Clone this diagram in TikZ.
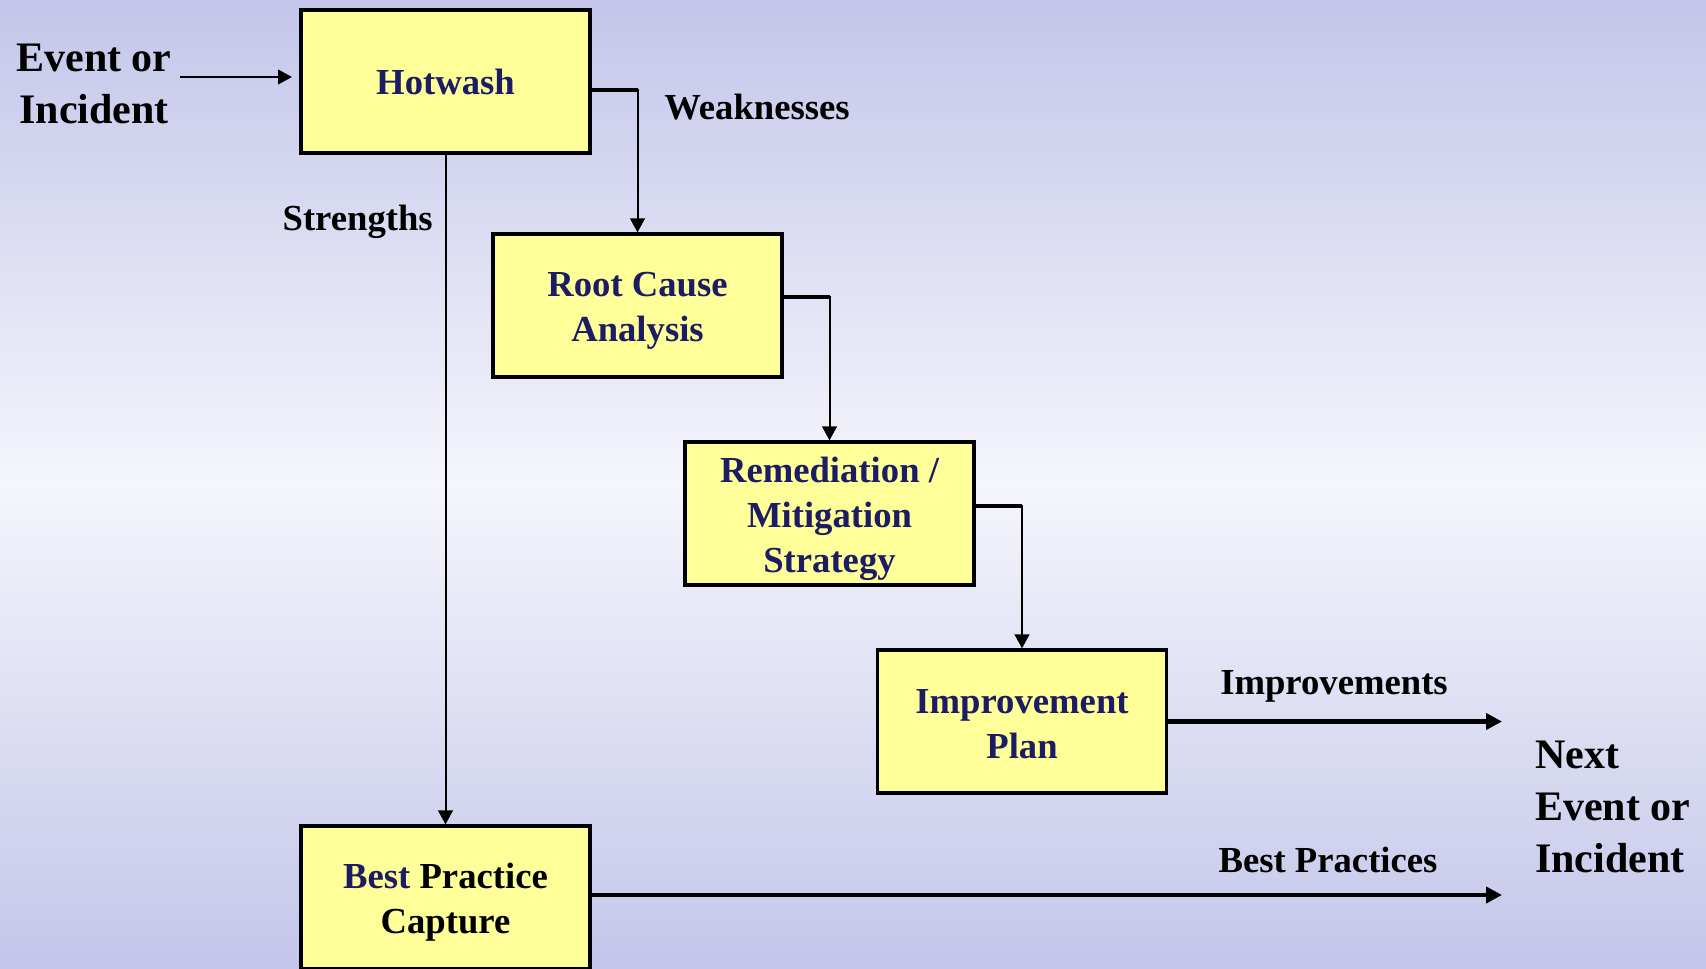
\documentclass[tikz,border=0pt]{standalone}
\usepackage{fontspec}
\setmainfont{Liberation Serif}
\usetikzlibrary{arrows.meta,calc}
\definecolor{bgedge}{RGB}{195,198,233}
\definecolor{bgmid}{RGB}{245,245,252}
\definecolor{boxfill}{RGB}{255,255,153}
\definecolor{navy}{RGB}{28,28,100}
\newcommand\tstrut{\rule{0pt}{26.5pt}}
\newcommand\sstrut{\rule{0pt}{21.7pt}}
\begin{document}
\begin{tikzpicture}[x=0.75pt,y=-0.75pt,
  procbox/.style={draw=black, line width=2.4pt, fill=boxfill, minimum width=216.75pt, minimum height=107.25pt,
    inner sep=0pt, align=center, text=navy, font=\bfseries\fontsize{27.5}{33.75}\selectfont},
  lbl/.style={inner sep=0pt, font=\bfseries\fontsize{27.5}{33.75}\selectfont},
  biglbl/.style={inner sep=0pt, font=\bfseries\fontsize{31.5}{39}\selectfont},
  thinarrow/.style={line width=1.5pt, -{Triangle[length=10.5pt,width=11pt]}},
  thickarrow/.style={line width=3.4pt, -{Triangle[length=12pt,width=12pt]}},
  stub/.style={line width=3.2pt}]
\useasboundingbox (0,0) rectangle (1706,968);
\begin{scope}[yscale=-1]
  \shade[top color=bgedge, bottom color=bgmid] (0,-484) rectangle (1706,0);
  \shade[top color=bgmid, bottom color=bgedge] (0,-968) rectangle (1706,-483);
\end{scope}

\node[procbox] (hot) at (445.5,81.5) {Hotwash};
\node[procbox] (rca) at (637.5,305.5) {\tstrut Root Cause\\Analysis};
\node[procbox] (rem) at (829.5,513.5) {\tstrut Remediation /\\Mitigation\\Strategy};
\node[procbox] (imp) at (1022,721.5) {\sstrut Improvement\\Plan};
\node[procbox, text=black] (bpc) at (445.5,897.5) {\tstrut{\color{navy}Best} Practice\\Capture};

\node[biglbl, align=center] (ev) at (94,84) {Event or\\Incident};
\node[biglbl, align=left, anchor=west] (next) at (1535,807) {Next\\Event or\\Incident};
\node[lbl, anchor=west] (weak) at (664,107) {Weaknesses};
\node[lbl, anchor=east] (str) at (433,222) {Strengths};
\node[lbl] (impl) at (1334,686) {Improvements};
\node[lbl] (bpl) at (1328,860) {Best Practices};

\coordinate (evs) at (180,77);
\coordinate (eve) at (292,77);
\coordinate (impend) at (1502,721.5);
\coordinate (bpcend) at (1502,895);
\coordinate (h1) at ($(hot.east)+(0,8.5)$);
\coordinate (r1) at ($(rca.east)+(0,-8.5)$);
\coordinate (m1) at ($(rem.east)+(0,-7.5)$);

\draw[thinarrow] (evs) -- (eve);
\draw[thinarrow] (h1) -| (rca.north);
\draw[stub] (h1) -- (h1 -| rca.north);
\draw[thinarrow] (r1) -| (rem.north);
\draw[stub] (r1) -- (r1 -| rem.north);
\draw[thinarrow] (m1) -| (imp.north);
\draw[stub] (m1) -- (m1 -| imp.north);
\draw[thinarrow] (hot.south) -- (bpc.north);
\draw[thickarrow] (imp.east) -- (impend);
\draw[thickarrow] (bpc.east |- bpcend) -- (bpcend);
\end{tikzpicture}
\end{document}
